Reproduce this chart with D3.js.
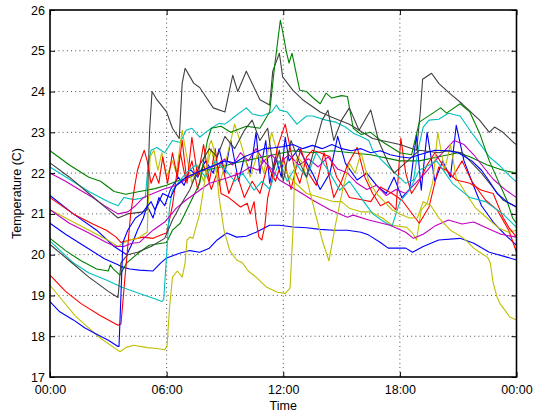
<!DOCTYPE html>
<html><head><meta charset="utf-8">
<script src="https://cdn.jsdelivr.net/npm/d3@7"></script>
<style>body{margin:0;background:#fff}svg{display:block}text{font-family:"Liberation Sans",Arial,Helvetica,sans-serif}</style>
</head><body>
<svg id="c" width="535" height="414"></svg>
<script>
const xTicks = [0, 6, 12, 18, 24];
const xTickLabels = ["00:00", "06:00", "12:00", "18:00", "00:00"];
const yTicks = [17, 18, 19, 20, 21, 22, 23, 24, 25, 26];
const seriesColors = ["#0000ff","#008000","#ff0000","#00bfbf","#bf00bf","#bfbf00","#404040","#0000ff","#008000","#ff0000","#00bfbf","#bf00bf","#bfbf00","#404040","#0000ff"];

const blue1 = [[0,21.45],[1.2,21.0],[2.4,20.6],[3.3,20.2],[3.95,20.0],[4.25,20.3],[4.5,20.6],[4.8,20.9],[5.0,21.2],[5.3,20.9],[5.6,21.4],[5.9,21.2],[6.2,21.6],[6.6,21.9],[6.9,21.7],[7.2,22.1],[7.6,21.9],[8.0,22.3],[8.4,22.0],[8.7,22.6],[9.0,22.0],[9.3,22.8],[9.7,21.8],[10.0,22.4],[10.3,22.0],[10.6,23.0],[10.8,22.0],[11.1,22.8],[11.3,21.75],[11.6,22.4],[11.9,21.9],[12.1,22.88],[12.3,22.3],[12.8,22.6],[13.5,22.0],[13.9,21.6],[14.4,22.0],[14.8,22.9],[15.2,22.24],[15.8,21.83],[16.3,22.0],[16.8,21.7],[17.3,21.5],[17.7,21.9],[18.1,21.4],[18.5,21.6],[18.85,22.93],[19.1,21.58],[19.4,23.0],[19.8,21.8],[20.2,22.3],[20.6,21.9],[20.9,23.17],[21.3,22.3],[21.7,21.8],[22.2,21.2],[22.8,20.8],[23.4,20.5],[24,20.23]];
const green1 = [[0,22.55],[1,22.2],[2,21.9],[2.6,21.8],[3.3,21.55],[3.9,21.48],[4.6,21.55],[5.4,21.62],[6.0,21.7],[6.5,21.8],[7.2,21.9],[7.8,22.05],[8.8,22.15],[9.5,22.25],[10.5,22.35],[11.5,22.45],[12.5,22.55],[13.5,22.5],[14.5,22.55],[15.5,22.5],[16.5,22.45],[17.5,22.35],[18.0,22.3],[19.0,22.3],[20.0,22.4],[21.0,22.5],[21.6,22.4],[22.5,22.2],[23.3,22.07],[24,22.0]];
const red1 = [[0,21.4],[1.2,21.0],[2.2,20.75],[2.9,20.6],[3.4,20.43],[3.65,20.3],[4.1,20.36],[4.8,20.43],[5.3,20.4],[5.8,20.5],[6.0,20.53],[6.3,21.2],[6.5,21.9],[6.7,22.5],[7.0,21.8],[7.3,22.3],[7.6,21.6],[7.9,22.2],[8.3,21.6],[8.8,22.3],[9.2,21.5],[9.6,22.0],[10.0,21.4],[10.4,21.8],[10.8,21.5],[11.2,22.2],[11.6,21.8],[12.0,22.4],[12.4,21.6],[12.9,22.6],[13.3,22.0],[13.7,21.7],[14.1,22.5],[14.6,21.4],[15.0,21.8],[15.3,22.2],[15.8,22.63],[16.2,21.9],[16.6,21.5],[17.0,21.2],[17.4,21.3],[17.8,21.1],[18.05,22.86],[18.3,22.0],[18.6,21.5],[19.0,21.8],[19.4,22.2],[19.8,22.5],[20.2,22.2],[20.7,21.9],[21.2,22.3],[21.7,21.8],[22.4,21.34],[23.0,21.1],[23.6,20.6],[24,20.06]];
const cyan1 = [[0,22.15],[1,21.85],[2,21.55],[3,21.3],[3.5,21.2],[3.8,21.4],[4.3,21.35],[4.9,21.4],[5.05,22.2],[5.2,22.56],[5.5,22.63],[5.9,22.5],[6.3,22.8],[6.7,22.75],[7.0,23.05],[7.3,23.1],[7.7,22.88],[8.0,23.0],[8.3,23.1],[8.7,23.22],[9.0,23.2],[9.4,23.35],[10.1,23.6],[10.4,23.45],[10.9,23.4],[11.4,23.5],[11.65,23.67],[11.8,23.55],[12.2,23.5],[12.7,23.2],[13.2,23.4],[13.5,23.4],[14.2,23.3],[14.7,23.25],[15.2,23.13],[15.6,22.98],[16.0,22.9],[16.4,22.8],[16.6,22.56],[17.1,22.3],[17.6,22.07],[18.3,21.75],[18.7,21.83],[18.95,22.6],[19.2,23.13],[19.5,23.3],[20.0,23.32],[20.5,23.47],[21.1,23.4],[21.6,23.05],[22.1,22.73],[22.6,22.4],[23.1,22.2],[23.5,22.0],[24,21.78]];
const magenta1 = [[0,22.0],[0.8,21.8],[1.5,21.6],[2.2,21.4],[2.8,21.2],[3.5,21.0],[4.0,21.05],[4.4,21.2],[4.8,21.4],[5.3,21.5],[5.8,21.6],[6.5,21.7],[7.0,21.85],[7.5,22.0],[8.0,22.1],[8.6,22.2],[9.0,22.35],[9.4,22.2],[9.8,22.5],[10.2,22.3],[10.6,22.6],[11.0,22.3],[11.4,22.45],[11.8,22.25],[12.3,22.45],[12.8,22.2],[13.3,22.35],[13.8,22.15],[14.3,22.4],[14.8,22.1],[15.3,22.0],[15.8,21.75],[16.3,21.6],[16.8,21.7],[17.3,21.45],[17.8,21.6],[18.3,21.5],[18.8,21.75],[19.3,22.0],[19.8,22.3],[20.3,22.55],[20.8,22.8],[21.3,22.7],[21.8,22.45],[22.3,22.15],[22.8,21.85],[23.4,21.6],[24,21.4]];
const yellow1 = [[0,21.1],[1.2,20.8],[2.2,20.55],[3.0,20.35],[3.5,20.2],[4.0,20.35],[4.5,20.4],[5.0,20.55],[5.15,22.4],[5.35,22.56],[5.55,22.07],[5.75,22.5],[6.0,21.9],[6.3,22.3],[6.5,22.0],[6.8,23.05],[7.0,22.5],[7.3,21.75],[7.6,22.2],[7.9,21.8],[8.3,22.6],[8.7,21.7],[9.0,22.2],[9.5,23.2],[9.9,22.6],[10.3,21.9],[10.7,22.5],[11.0,22.0],[11.4,23.0],[11.7,22.5],[12.3,21.9],[13.2,21.5],[13.9,21.4],[14.6,21.3],[15.0,21.3],[15.4,21.14],[16.0,21.05],[16.5,21.05],[17.1,20.9],[17.6,20.72],[18.35,20.67],[18.65,20.53],[18.86,20.36],[19.1,21.1],[19.4,21.26],[19.7,21.8],[19.95,23.0],[20.3,22.07],[20.6,22.7],[20.9,21.88],[21.4,21.5],[21.9,21.14],[22.6,20.85],[23.1,20.65],[23.6,20.55],[24,20.6]];
const gray1 = [[0,22.25],[1,21.9],[2,21.5],[3,21.1],[3.5,20.9],[4,21.0],[4.8,21.05],[5.0,21.1],[5.12,23.0],[5.25,24.0],[5.5,23.8],[6.0,23.5],[6.3,23.1],[6.65,22.85],[6.8,24.2],[6.95,24.57],[7.4,24.2],[7.7,24.1],[8.4,23.6],[9.0,23.5],[9.4,24.4],[9.66,24.0],[10.1,24.5],[10.8,23.8],[11.3,23.67],[11.46,24.5],[11.67,24.77],[11.8,24.94],[11.97,24.36],[12.5,24.03],[13.0,23.8],[13.9,23.5],[14.5,23.37],[15.4,23.2],[16.6,22.85],[18.0,22.7],[18.86,22.56],[19.05,23.5],[19.17,24.3],[19.63,24.45],[20.0,24.2],[20.55,23.96],[21.2,23.7],[22.1,23.3],[22.6,23.0],[22.87,23.13],[23.3,23.0],[23.9,22.73],[24,22.7]];
const blue2 = [[0,20.77],[0.8,20.5],[1.8,20.2],[2.8,19.9],[3.5,19.75],[3.7,19.7],[4.1,19.65],[4.6,19.62],[5.3,19.6],[5.7,19.8],[6.0,19.92],[6.7,20.04],[7.2,20.1],[7.7,20.06],[8.2,20.16],[8.6,20.36],[9.1,20.53],[9.6,20.43],[10.1,20.45],[10.6,20.55],[11.3,20.72],[11.8,20.72],[12.5,20.68],[13.2,20.66],[13.9,20.62],[14.6,20.6],[15.3,20.6],[16.0,20.55],[16.4,20.48],[17.0,20.3],[17.4,20.16],[18.3,20.16],[18.65,20.06],[19.2,20.2],[20.0,20.36],[21.1,20.4],[21.8,20.28],[22.6,20.06],[23.5,19.94],[24,19.87]];
const green2 = [[0,20.4],[0.8,20.1],[1.6,19.85],[2.4,19.65],[3.0,19.6],[3.1,19.75],[3.25,19.65],[3.6,19.5],[3.95,19.8],[4.6,20.06],[5.1,20.23],[6.0,20.3],[6.3,20.6],[6.7,20.77],[7.2,21.26],[7.7,21.75],[7.9,22.3],[8.1,22.8],[8.3,23.1],[8.8,23.15],[9.3,23.0],[10.1,23.15],[10.8,23.1],[11.3,23.5],[11.55,24.6],[11.85,25.75],[12.0,25.4],[12.15,25.0],[12.3,24.7],[12.45,24.94],[12.6,24.6],[12.85,24.03],[13.2,24.0],[13.5,23.86],[13.9,23.7],[14.2,23.96],[14.5,23.84],[15.0,23.9],[15.3,23.88],[15.6,23.1],[16.0,22.95],[16.5,23.0],[17.0,22.8],[18.0,22.5],[18.6,22.45],[19.0,23.25],[20.1,23.6],[20.4,23.47],[21.1,23.7],[21.6,23.5],[22.1,22.98],[22.6,22.3],[23.1,21.76],[23.5,21.34],[23.8,20.9],[24,20.77]];
const red2 = [[0,19.5],[0.8,19.1],[1.6,18.8],[2.6,18.5],[3.5,18.27],[3.65,18.3],[3.85,19.4],[4.0,20.2],[4.15,21.0],[4.35,21.66],[4.5,22.07],[4.65,22.3],[4.85,22.56],[5.0,22.3],[5.2,21.75],[5.4,22.0],[5.6,21.75],[5.8,22.4],[6.05,21.75],[6.3,22.5],[6.55,21.9],[6.8,22.8],[7.05,21.75],[7.3,22.88],[7.6,21.9],[7.9,22.7],[8.2,21.8],[8.5,22.6],[8.8,21.5],[9.2,21.4],[9.8,21.17],[10.15,21.26],[10.3,21.0],[10.5,21.3],[10.6,20.85],[10.75,20.43],[10.9,20.36],[11.05,20.7],[11.2,21.4],[11.45,21.9],[11.7,22.63],[12.1,23.2],[12.6,22.07],[12.85,21.75],[13.2,22.4],[13.5,22.56],[13.9,22.5],[14.4,22.4],[14.75,21.9],[15.2,21.58],[15.4,21.4],[16.1,21.34],[16.5,21.3],[17.0,21.66],[17.6,21.5],[18.1,21.34],[19.0,20.77],[19.5,21.17],[20.0,22.15],[20.4,22.07],[20.9,21.83],[21.6,21.75],[22.2,21.58],[22.8,21.5],[23.3,20.92],[23.6,20.67],[24,20.43]];
const cyan2 = [[0,20.33],[1.2,19.8],[2.0,19.55],[2.9,19.38],[3.7,19.2],[4.6,19.05],[5.5,18.9],[5.75,18.85],[5.85,18.9],[6.0,20.0],[6.15,21.17],[6.3,21.58],[6.7,21.83],[7.0,22.0],[7.5,22.2],[8.0,21.9],[8.5,22.3],[9.0,22.1],[9.5,21.8],[9.9,22.0],[10.5,21.58],[10.9,21.8],[11.3,21.6],[11.8,22.3],[12.2,21.8],[12.7,22.2],[13.2,21.9],[13.7,22.5],[14.4,22.0],[14.9,21.58],[15.4,21.8],[16.0,21.4],[16.6,21.0],[17.2,20.8],[17.6,20.7],[18.0,21.3],[18.5,21.58],[19.0,22.07],[19.9,22.3],[20.7,21.75],[21.6,21.4],[22.4,21.3],[23.3,21.0],[24,20.67]];
const magenta2 = [[0,21.1],[1.0,20.77],[2.0,20.53],[2.9,20.3],[3.4,20.2],[3.8,20.2],[4.2,20.28],[4.6,20.3],[4.9,20.43],[5.3,20.6],[5.9,20.8],[6.5,21.14],[7.0,21.34],[7.7,21.58],[8.2,21.75],[9.1,21.88],[9.8,22.0],[10.3,22.15],[10.7,22.07],[11.0,22.3],[11.4,22.1],[11.8,21.83],[12.7,21.58],[13.5,21.34],[14.4,21.1],[15.3,20.92],[15.6,20.97],[16.4,20.85],[17.5,20.72],[18.3,20.55],[18.7,20.4],[19.2,20.5],[19.8,20.7],[20.5,20.85],[21.2,20.75],[21.8,20.8],[22.5,20.65],[23.2,20.5],[24,20.43]];
const yellow2 = [[0,19.25],[0.6,18.9],[1.3,18.5],[2.0,18.2],[2.6,17.95],[3.2,17.75],[3.6,17.62],[3.9,17.72],[4.3,17.78],[5.0,17.72],[5.5,17.7],[5.9,17.67],[6.02,17.75],[6.15,18.7],[6.3,19.45],[6.55,19.6],[6.8,19.45],[6.95,19.8],[7.05,20.36],[7.2,20.43],[7.35,20.4],[7.7,21.0],[8.05,22.07],[8.2,22.7],[8.3,22.8],[8.45,22.56],[8.7,21.4],[8.95,20.6],[9.25,20.1],[9.6,19.87],[9.9,19.8],[10.2,19.6],[10.6,19.45],[11.15,19.2],[11.7,19.08],[12.1,19.05],[12.35,19.18],[12.5,20.6],[12.6,22.24],[12.75,22.4],[13.0,22.24],[13.35,21.58],[13.7,20.92],[14.0,20.36],[14.35,19.85],[14.7,20.77],[15.05,21.58],[15.4,22.24],[15.7,22.0],[16.0,22.5],[16.4,21.8],[16.8,21.5],[17.2,21.3],[17.6,21.1],[18.0,21.0],[18.5,20.9],[18.9,20.9],[19.2,21.3],[19.6,21.2],[20.0,20.9],[20.6,20.6],[21.2,20.43],[21.5,20.3],[21.8,20.16],[22.1,20.06],[22.5,19.94],[22.65,19.8],[22.8,19.3],[23.0,18.96],[23.15,18.8],[23.4,18.64],[23.65,18.47],[24,18.4]];
const gray2 = [[0,20.25],[1,19.85],[2,19.45],[3,19.1],[3.5,18.95],[3.65,19.8],[4.0,20.0],[4.5,20.06],[5.2,20.2],[5.9,20.4],[6.3,20.85],[6.7,21.2],[7.2,21.6],[7.7,22.2],[8.2,22.6],[8.6,22.4],[9.0,22.9],[9.5,22.6],[10.0,23.05],[10.4,23.3],[10.8,22.8],[11.2,23.1],[11.5,22.07],[11.8,22.56],[12.0,21.8],[12.4,22.8],[12.8,22.3],[13.2,21.9],[13.6,22.6],[14.0,23.3],[14.3,23.54],[14.6,22.8],[15.0,23.3],[15.4,23.6],[15.9,23.05],[16.5,23.55],[16.9,22.8],[17.4,22.25],[17.7,22.0],[18.4,22.3],[19.0,22.56],[20.0,22.5],[20.5,22.55],[21.2,22.5],[22.2,22.0],[23.3,21.34],[24,21.17]];
const blue3 = [[0,18.85],[0.5,18.6],[1.2,18.4],[1.8,18.2],[2.4,18.05],[3.0,17.9],[3.5,17.75],[3.55,17.75],[3.65,19.0],[3.75,20.3],[4.0,20.6],[4.4,20.9],[4.7,21.0],[5.2,21.3],[5.4,21.1],[5.8,21.5],[6.2,21.4],[6.5,21.7],[7.0,21.9],[7.5,22.0],[8.0,22.1],[8.5,22.2],[9.0,22.3],[9.5,22.25],[10.0,22.4],[10.5,22.5],[11.0,22.6],[11.5,22.62],[12.0,22.65],[12.5,22.7],[13.0,22.6],[13.5,22.68],[14.0,22.6],[14.5,22.7],[15.0,22.6],[15.5,22.55],[16.0,22.6],[16.5,22.5],[17.0,22.55],[17.5,22.45],[18.0,22.4],[18.5,22.37],[19.0,22.45],[19.8,22.56],[20.5,22.55],[21.0,22.5],[21.7,22.3],[22.2,22.07],[22.6,21.8],[23.0,21.5],[23.5,21.3],[24,21.17]];

const allSeries = [blue1, green1, red1, cyan1, magenta1, yellow1, gray1, blue2, green2, red2, cyan2, magenta2, yellow2, gray2, blue3];

const L = 50, R = 516.5, T = 10, B = 377;
const x = d3.scaleLinear().domain([0, 24]).range([L, R]);
const y = d3.scaleLinear().domain([17, 26]).range([B, T]);
const svg = d3.select("#c");

// grid
const grid = svg.append("g").attr("stroke", "#222").attr("stroke-width", 0.8).attr("stroke-dasharray", "1,3.2");
grid.selectAll("line.h").data(yTicks.slice(1, -1)).join("line")
  .attr("x1", L).attr("x2", R).attr("y1", d => y(d)).attr("y2", d => y(d));
grid.selectAll("line.v").data(xTicks.slice(1, -1)).join("line")
  .attr("y1", T).attr("y2", B).attr("x1", d => x(d)).attr("x2", d => x(d));

// lines
const line = d3.line().x(d => x(d[0])).y(d => y(d[1]));
svg.append("g").selectAll("path").data(allSeries).join("path")
  .attr("d", line).attr("fill", "none")
  .attr("stroke", (d, i) => seriesColors[i]).attr("stroke-width", 1.1)
  .attr("stroke-linejoin", "round");

// axes
const fmt = (d, i) => xTickLabels[i];
const ax = svg.append("g").attr("transform", `translate(0,${B})`)
  .call(d3.axisBottom(x).tickValues(xTicks).tickFormat(fmt).tickSizeInner(-5).tickSizeOuter(0).tickPadding(8));
const ay = svg.append("g").attr("transform", `translate(${L},0)`)
  .call(d3.axisLeft(y).tickValues(yTicks).tickFormat(d3.format("d")).tickSizeInner(-5).tickSizeOuter(0).tickPadding(5));
const at = svg.append("g").attr("transform", `translate(0,${T})`)
  .call(d3.axisTop(x).tickValues(xTicks).tickFormat("").tickSizeInner(-5).tickSizeOuter(0));
const ar = svg.append("g").attr("transform", `translate(${R},0)`)
  .call(d3.axisRight(y).tickValues(yTicks).tickFormat("").tickSizeInner(-5).tickSizeOuter(0));
[ax, ay, at, ar].forEach(g => {
  g.select(".domain").remove();
  g.selectAll(".tick line").attr("stroke", "#000").attr("stroke-width", 1);
  g.selectAll("text").attr("font-size", "12.5px").attr("fill", "#000")
    .style("font-family", '"Liberation Sans", Arial, sans-serif');
});

svg.append("rect").attr("x", L).attr("y", T).attr("width", R - L).attr("height", B - T)
  .attr("fill", "none").attr("stroke", "#000").attr("stroke-width", 1.6);

svg.append("text").attr("x", (L + R) / 2).attr("y", 410).attr("text-anchor", "middle")
  .attr("font-size", "12.5px").text("Time");
svg.append("text").attr("transform", `translate(21,${(T + B) / 2}) rotate(-90)`)
  .attr("text-anchor", "middle").attr("font-size", "12.5px").text("Temperature (C)");
</script>
</body></html>
